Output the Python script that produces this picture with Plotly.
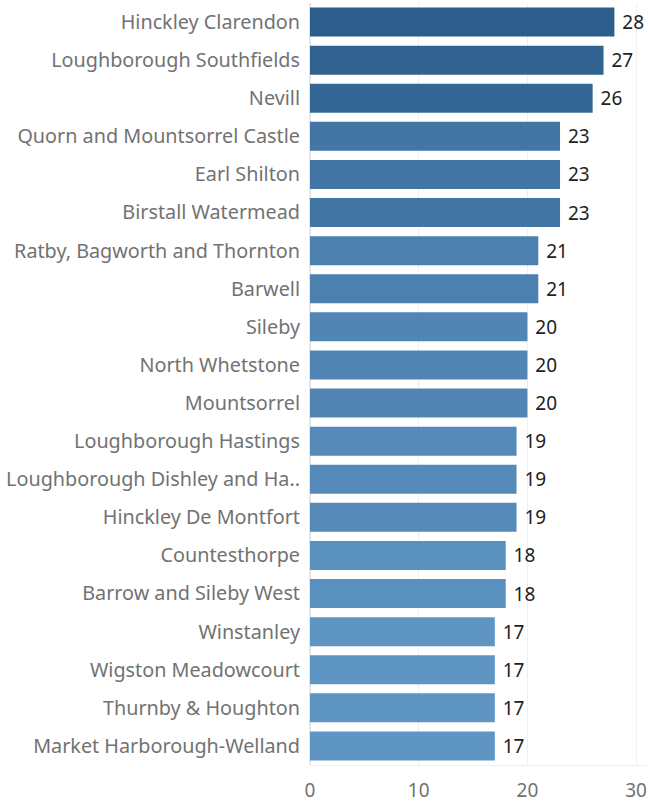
import plotly.graph_objects as go

categories = [
    "Hinckley Clarendon", "Loughborough Southfields", "Nevill",
    "Quorn and Mountsorrel Castle", "Earl Shilton", "Birstall Watermead",
    "Ratby, Bagworth and Thornton", "Barwell", "Sileby", "North Whetstone",
    "Mountsorrel", "Loughborough Hastings", "Loughborough Dishley and Ha..",
    "Hinckley De Montfort", "Countesthorpe", "Barrow and Sileby West",
    "Winstanley", "Wigston Meadowcourt", "Thurnby & Houghton",
    "Market Harborough-Welland",
]
values = [28, 27, 26, 23, 23, 23, 21, 21, 20, 20, 20, 19, 19, 19, 18, 18, 17, 17, 17, 17]
x_ticks = [0, 10, 20, 30]

fig = go.Figure(go.Bar(
    y=categories,
    x=values,
    orientation="h",
    marker=dict(
        color=values,
        colorscale=[[0, "#5f95c3"], [1, "#2c5d8b"]],
        cmin=17, cmax=28,
        line=dict(width=0),
    ),
    width=0.76,
    text=[" " + str(v) for v in values],
    textposition="outside",
    textfont=dict(family="Noto Sans", size=19, color="#222222"),
    cliponaxis=False,
    hoverinfo="skip",
))

fig.update_layout(
    width=648, height=806,
    margin=dict(l=310, r=1, t=3, b=41),
    plot_bgcolor="white", paper_bgcolor="white",
    showlegend=False,
    font=dict(family="Noto Sans", size=19, color="#707070"),
)
fig.update_yaxes(
    categoryorder="array", categoryarray=categories[::-1],
    showgrid=False, ticks="", ticklabelstandoff=9,
    tickfont=dict(size=19.8, color="#727272"),
    zeroline=False, showline=False, automargin=False,
)
fig.update_xaxes(
    range=[0, 31.0], tickvals=x_ticks,
    showgrid=True, gridcolor="#efefef", gridwidth=1,
    zeroline=True, zerolinecolor="#e6e6e6",
    showline=True, linecolor="#efefef",
    tickfont=dict(size=19, color="#727272"),
    ticks="", ticklabelstandoff=8, automargin=False,
)

fig.write_html(
    "out.html",
    config={"displayModeBar": False},
    post_script="document.body.style.margin='0';document.body.style.padding='0';",
)
